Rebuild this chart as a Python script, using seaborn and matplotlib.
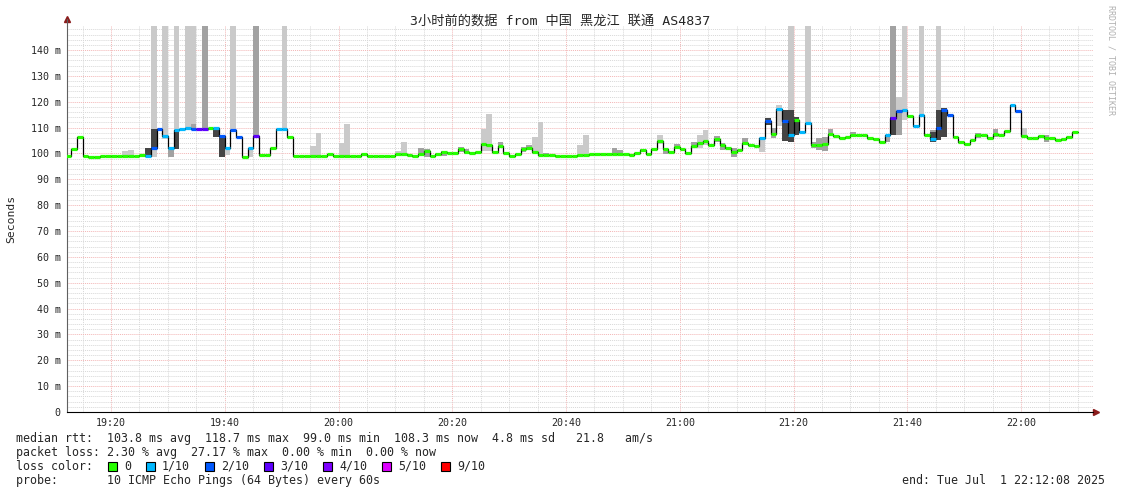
import numpy as np
import pandas as pd
import matplotlib
matplotlib.use("Agg")
import matplotlib.pyplot as plt
from matplotlib.patches import Rectangle
import seaborn as sns

# 19:12부터 1분 간격 중앙값 (ms)
median_ms = [
    99.0, 101.7, 106.4, 99.0, 98.8, 98.8, 99.0, 99.0, 99.0, 99.0,
    99.0, 99.0, 99.2, 99.3, 99.0, 102.2, 109.3, 106.7, 102.2, 109.0,
    109.4, 109.7, 109.5, 109.3, 109.3, 109.7, 109.7, 106.7, 102.0, 109.2,
    106.4, 98.8, 102.0, 106.8, 99.3, 99.3, 102.0, 109.5, 109.5, 106.4,
    99.2, 99.2, 99.2, 99.2, 99.2, 99.2, 99.6, 99.0, 99.2, 99.2,
    99.2, 99.2, 99.6, 99.2, 99.2, 99.2, 99.2, 99.2, 99.6, 99.6,
    99.4, 99.1, 99.9, 100.9, 99.1, 99.6, 100.4, 100.0, 100.0, 101.9,
    100.4, 100.3, 100.4, 103.6, 103.2, 100.4, 102.8, 100.0, 99.2, 99.9,
    101.7, 102.3, 100.6, 99.4, 99.4, 99.4, 99.1, 99.1, 99.1, 99.2,
    99.4, 99.4, 99.6, 99.9, 99.9, 99.6, 99.6, 99.6, 99.6, 99.4,
    100.0, 101.3, 99.6, 101.7, 105.0, 101.9, 100.6, 102.6, 101.7, 100.0,
    103.0, 103.9, 104.9, 103.2, 105.5, 103.2, 102.2, 100.4, 101.3, 104.1,
    103.2, 103.0, 106.0, 112.5, 107.5, 117.1, 112.5, 107.3, 112.9, 108.4,
    111.6, 103.2, 103.2, 103.5, 107.7, 106.7, 105.8, 106.3, 107.1, 107.1,
    107.3, 105.8, 105.5, 104.5, 107.3, 113.8, 116.5, 116.8, 114.6, 110.5,
    114.8, 107.3, 105.4, 109.7, 116.8, 114.8, 106.2, 104.4, 103.5, 105.2,
    107.1, 107.1, 105.8, 107.7, 107.3, 108.6, 118.7, 116.4, 106.8, 105.8,
    105.8, 106.8, 105.8, 105.8, 105.2, 105.4, 106.4, 108.3,
]

# 손실 있는 분 / 손실 (10회 중)
loss_minutes = [14, 15, 16, 17, 18, 19, 20, 21, 22, 23, 24, 26, 27, 28, 29, 30, 32, 33, 37, 38,
                122, 123, 125, 126, 127, 129, 130, 144, 145, 146, 147, 149, 150, 152, 153, 154, 155,
                166, 167]
loss_tenths = [1, 2, 2, 1, 1, 1, 1, 1, 2, 3, 3, 1, 2, 1, 2, 2, 1, 3, 1, 1,
               1, 2, 1, 2, 1, 1, 1, 1, 3, 2, 1, 1, 1, 1, 2, 2, 2,
               1, 2]

# smoke (연한 회색)
light_m  = [10, 11, 15, 17, 19, 21, 22, 28, 29, 32, 38, 43, 44, 48, 49, 58, 59, 73, 74, 82,
            83, 90, 91, 104, 111, 112, 122, 125, 127, 130, 146, 147, 150, 153, 168]
light_lo = [98.8, 98.8, 98.8, 105.7, 102.0, 109.7, 109.5, 99.3, 109.2, 98.8, 109.5, 98.9, 98.9, 98.9, 98.9,
            99.2, 99.2, 100.9, 100.9, 100.0, 99.0, 99.0, 99.0, 103.8, 102.0, 103.2, 100.6, 110.5,
            116.8, 111.6, 116.5, 112.9, 114.8, 117.0, 105.8]
light_hi = [100.8, 101.2, 150, 150, 150, 150, 150, 102.0, 150, 102.0, 150, 103.0, 107.8, 104.0, 111.3,
            100.8, 104.3, 109.5, 115.2, 106.3, 112.2, 103.2, 107.1, 107.1, 107.1, 109.0, 106.0, 118.9,
            150, 150, 121.9, 150, 150, 150, 109.9]

# 중간 회색
mid_m  = [18, 22, 24, 33, 62, 63, 66, 69, 70, 76, 80, 81, 84, 96, 97, 101, 105, 107, 110, 114,
          115, 117, 119, 124, 131, 132, 133, 134, 138, 144, 145, 146, 152, 160, 163, 172]
mid_lo = [98.7, 109.5, 109.3, 106.8, 99.4, 98.8, 99.1, 100.6, 99.6, 102.2, 100.6, 102.0, 99.4, 99.6,
          99.6, 100.4, 99.6, 102.0, 102.0, 104.4, 101.5, 98.7, 103.2, 105.8, 102.0, 101.5, 101.0,
          107.3, 106.5, 104.3, 107.0, 107.0, 104.4, 106.0, 106.4, 104.5]
mid_hi = [102.2, 111.4, 150, 150, 102.0, 101.7, 100.9, 102.6, 101.7, 104.3, 102.6, 103.2, 100.0,
          102.3, 101.3, 101.7, 102.0, 103.5, 104.5, 106.7, 103.9, 102.2, 105.8, 109.7, 104.5, 106.0,
          106.4, 109.4, 108.4, 107.3, 150, 116.5, 109.0, 108.0, 109.4, 107.3]

# 진한 회색
dark_m  = [14, 15, 19, 26, 27, 123, 126, 127, 128, 145, 152, 153, 154]
dark_lo = [99.0, 102.2, 101.7, 106.4, 98.8, 111.1, 105.0, 104.5, 107.1, 107.0, 104.3, 105.2, 106.5]
dark_hi = [102.2, 109.3, 109.0, 109.7, 106.7, 113.7, 116.8, 116.8, 114.2, 114.0, 108.2, 117.0, 117.4]

tick_min    = [20, 40, 60, 80, 100, 120, 140, 160, 180]
tick_labels = ["19:20", "19:40", "20:00", "20:20", "20:40", "21:00", "21:20", "21:40", "22:00"]

loss_keys   = [0, 1, 2, 3, 4, 5, 9]
loss_names  = ["0", "1/10", "2/10", "3/10", "4/10", "5/10", "9/10"]
loss_colors = ["#26ff00", "#00b8ff", "#0059ff", "#5e00ff", "#7e00ff", "#dd00ff", "#ff0000"]

T0 = 12              # 19:12
X0, X1 = 12.26, 192.66   # 눈금 위치(19:20 -> 111px, 22:00 -> 1021px)에 맞춤

sns.set_style("white")
plt.rcParams["font.family"] = ["DejaVu Sans Mono", "Noto Sans CJK SC"]

W, H = 1121, 494
fig = plt.figure(figsize=(W / 100, H / 100), dpi=100)
ax = fig.add_axes([67 / W, 1 - 412 / H, 1026 / W, 386 / H])

def smoke(ms, lo, hi, color, z):
    lo = np.array(lo); hi = np.array(hi)
    ax.bar(np.array(ms) + T0, hi - lo, bottom=lo, width=1, align="edge",
           color=color, linewidth=0, zorder=z)

smoke(light_m, light_lo, light_hi, "#cacaca", 2)
smoke(mid_m, mid_lo, mid_hi, "#a2a2a2", 3)
smoke(dark_m, dark_lo, dark_hi, "#454545", 4)

n = len(median_ms)
df = pd.DataFrame({"t": np.arange(n + 1) + T0, "rtt": median_ms + [median_ms[-1]]})
sns.lineplot(data=df, x="t", y="rtt", drawstyle="steps-post", color="black",
             lw=0.9, ax=ax, zorder=5)

loss = np.zeros(n, dtype=int)
loss[loss_minutes] = loss_tenths
cmap = dict(zip(loss_keys, loss_colors))
t = np.arange(n) + T0
ax.hlines(median_ms, t, t + 1, colors=[cmap[l] for l in loss], lw=2.3, zorder=6)

# 축/그리드
ax.set_xlim(X0, X1)
ax.set_ylim(0, 149.3)
ax.set_yticks(range(0, 150, 10))
ax.set_yticklabels(["0"] + [f"{v} m" for v in range(10, 150, 10)])
ax.set_yticks(np.arange(0, 150, 2), minor=True)
ax.set_xticks(tick_min)
ax.set_xticklabels(tick_labels)
ax.set_xticks(np.arange(15, 192, 5), minor=True)
ax.set_axisbelow(True)
ax.grid(which="minor", color="#d8d8d8", linestyle=(0, (1, 1)), lw=0.7)
ax.grid(which="major", color="#f3b6b6", linestyle=(0, (1, 1)), lw=0.7)
ax.tick_params(axis="both", which="major", labelsize=7.2, direction="inout", length=5,
               width=0.7, color="#404040", pad=2)
ax.tick_params(axis="y", which="minor", length=0)
ax.tick_params(axis="x", which="minor", direction="inout", length=3, width=0.6, color="#606060")
ax.set_xlabel(""); ax.set_ylabel("")
for s in ["top", "right"]:
    ax.spines[s].set_visible(False)
ax.spines["left"].set_color("#606060")
ax.spines["bottom"].set_color("black")
ax.spines["left"].set_linewidth(0.8)
ax.spines["bottom"].set_linewidth(0.8)
ax.plot([0], [1 + 7 / 386], marker="^", color="#8b1c1c", ms=4, transform=ax.transAxes, clip_on=False)
ax.plot([1 + 3 / 1026], [0], marker=">", color="#8b1c1c", ms=4, transform=ax.transAxes, clip_on=False)
ax.plot([0, 0], [1, 1 + 7 / 386], color="#606060", lw=0.8, transform=ax.transAxes, clip_on=False)

def px(x, y):
    return x / W, 1 - y / H

fig.text(*px(560.5, 21), "3小时前的数据 from 中国 黑龙江 联通 AS4837", ha="center", va="center",
         fontsize=9.5, family=["DejaVu Sans Mono", "Noto Sans CJK SC"])
fig.text(*px(11, 219), "Seconds", rotation=90, ha="center", va="center", fontsize=8.2)
fig.text(*px(1111, 5), "RRDTOOL / TOBI OETIKER", rotation=270, ha="center", va="top",
         fontsize=6, color="#b0b0b0")

FS = 8.4
fig.text(*px(16, 438), "median rtt:  103.8 ms avg  118.7 ms max  99.0 ms min  108.3 ms now  4.8 ms sd   21.8   am/s",
         ha="left", va="center", fontsize=FS)
fig.text(*px(16, 452), "packet loss: 2.30 % avg  27.17 % max  0.00 % min  0.00 % now",
         ha="left", va="center", fontsize=FS)
fig.text(*px(16, 466), "loss color:", ha="left", va="center", fontsize=FS)
fig.text(*px(16, 480), "probe:       10 ICMP Echo Pings (64 Bytes) every 60s",
         ha="left", va="center", fontsize=FS)
fig.text(*px(1105, 480), "end: Tue Jul  1 22:12:08 2025", ha="right", va="center", fontsize=FS)

x = 108
for name, col in zip(loss_names, loss_colors):
    fig.patches.append(Rectangle(px(x, 471), 9 / W, 9 / H, transform=fig.transFigure,
                                 facecolor=col, edgecolor="black", lw=0.8))
    fig.text(*px(x + 16, 466), name, ha="left", va="center", fontsize=FS)
    x = x + 16 + 7 * len(name) + 15

fig.savefig("out.png", dpi=100)
